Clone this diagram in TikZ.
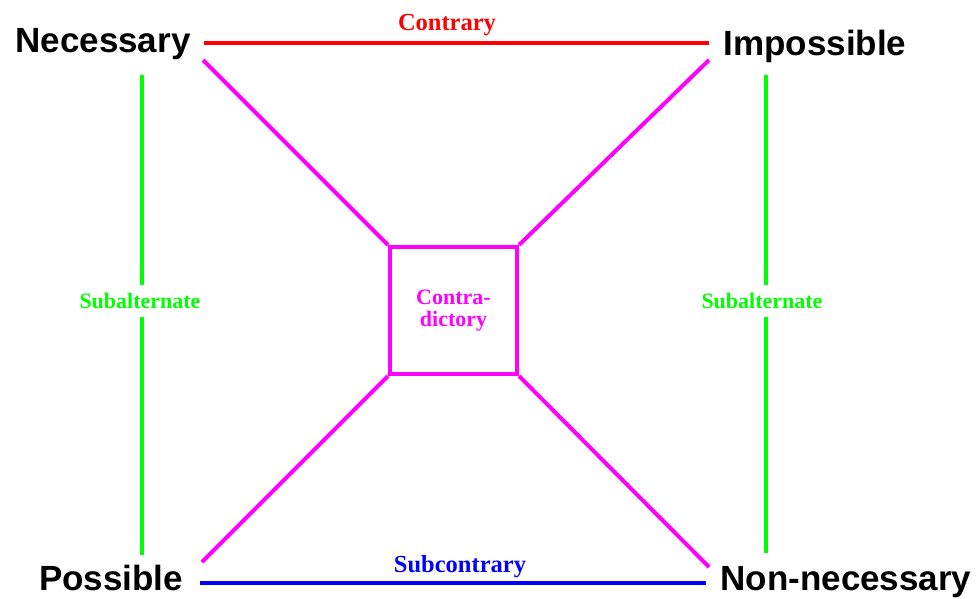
\documentclass[tikz,border=0pt]{standalone}
\usepackage{fontspec}
\setmainfont{Liberation Serif}
\newfontfamily\headfont{Liberation Sans}
\usetikzlibrary{calc}
\definecolor{contrary}{HTML}{FF0000}
\definecolor{subalt}{HTML}{00FF00}
\definecolor{subcon}{HTML}{0000FF}
\definecolor{contra}{HTML}{FF00FF}
\tikzset{
  modal/.style={
    font=\headfont\bfseries\fontsize{35}{35}\selectfont,
    anchor=base, inner sep=0pt
  },
  relname/.style={
    font=\bfseries\fontsize{22}{22}\selectfont, text=#1,
    inner sep=0pt, align=center
  },
  bigrel/.style={
    relname=#1, font=\bfseries\fontsize{24.5}{24.5}\selectfont, anchor=base
  },
  relline/.style={
    line width=4pt, color=#1
  },
}

\begin{document}
\begin{tikzpicture}[x=1pt, y=-1pt]
  \useasboundingbox (0,0) rectangle (978,598);

  % the four modal corners
  \node[modal] (nec)    at (103,52)  {Necessary};
  \node[modal] (imp)    at (815,55)  {Impossible};
  \node[modal] (pos)    at (111,590) {Possible};
  \node[modal] (nonnec) at (846,590) {Non-necessary};

  % line ends near the corners
  \coordinate (nec-e)    at (204,43);
  \coordinate (imp-w)    at (709,43);
  \coordinate (pos-e)    at (200,583);
  \coordinate (nonnec-w) at (706,583);
  \coordinate (nec-d)    at (203,60);
  \coordinate (imp-d)    at (709,60);
  \coordinate (pos-d)    at (202,562);
  \coordinate (nonnec-d) at (709,567);
  \coordinate (nec-s)    at (142,75);
  \coordinate (pos-n)    at (142,555);
  \coordinate (imp-s)    at (766,75);
  \coordinate (nonnec-n) at (766,553);

  % centre box
  \node[draw=contra, line width=4pt, minimum width=127pt, minimum height=127pt,
        inner sep=0pt, relname=contra] (cd) at (453.5,310.5) {Contra-\\dictory};

  % relation labels
  \node[bigrel=contrary] (lcon) at (447,30)  {Contrary};
  \node[bigrel=subcon]   (lsub) at (460,572) {Subcontrary};
  \node[relname=subalt, minimum height=32pt] (lsal) at (140,301) {Subalternate};
  \node[relname=subalt, minimum height=32pt] (lsar) at (762,301) {Subalternate};

  \draw[relline=contrary] (nec-e) -- (imp-w);
  \draw[relline=subcon]   (pos-e) -- (nonnec-w);

  \draw[relline=subalt] (nec-s) -- (nec-s |- lsal.north);
  \draw[relline=subalt] (nec-s |- lsal.south) -- (pos-n);
  \draw[relline=subalt] (imp-s) -- (imp-s |- lsar.north);
  \draw[relline=subalt] (imp-s |- lsar.south) -- (nonnec-n);

  \draw[relline=contra] (nec-d)    -- (cd.north west);
  \draw[relline=contra] (imp-d)    -- (cd.north east);
  \draw[relline=contra] (pos-d)    -- (cd.south west);
  \draw[relline=contra] (nonnec-d) -- (cd.south east);
\end{tikzpicture}
\end{document}
